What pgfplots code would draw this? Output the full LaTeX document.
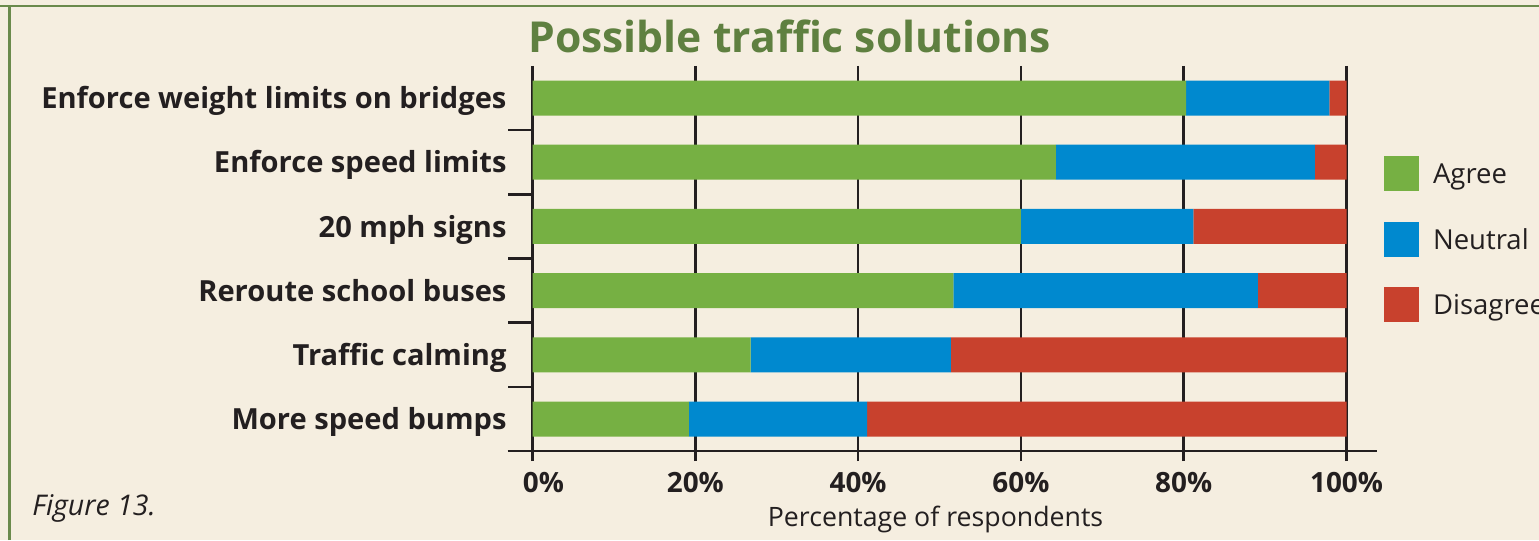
\documentclass[border=0pt]{standalone}
\usepackage{fontspec}
\setmainfont{Open Sans}
\usepackage{pgfplots}
\pgfplotsset{compat=1.18}

\definecolor{bg}{HTML}{F5EEE0}
\definecolor{framegreen}{HTML}{6A8A4C}
\definecolor{titlegreen}{HTML}{5F8040}
\definecolor{agree}{HTML}{76B043}
\definecolor{neutral}{HTML}{0089CF}
\definecolor{disagree}{HTML}{C8412D}
\definecolor{ink}{HTML}{231F20}

\pgfplotsset{
  sq/.style={legend image code/.code={\fill[##1] (0bp,-8.75bp) rectangle (17.5bp,8.75bp);}},
}

\begin{document}
\begin{tikzpicture}[x=1bp,y=1bp]
  % background and frame
  \fill[bg] (0,0) rectangle (769.5,270);
  \draw[framegreen, line width=1.3bp] (0,267) -- (769.5,267);
  \draw[framegreen, line width=1.6bp] (4.75,0) -- (4.75,267.6);

  \node[anchor=base west, inner sep=0pt, text=titlegreen,
        font=\bfseries\fontsize{21.4}{25}\selectfont] at (264,243.6) {Possible traffic solutions};
  \node[anchor=base west, inner sep=0pt, text=ink,
        font=\itshape\fontsize{14.3}{17}\selectfont] at (16,12.5) {Figure 13.};

  \begin{axis}[
    at={(266.25bp,44.45bp)}, anchor=south west,
    scale only axis, width=407bp, height=192.6bp,
    clip=false,
    xbar stacked, bar width=17.5bp,
    xmin=0, xmax=100, ymin=-0.5, ymax=5.5, y dir=reverse,
    axis line style={draw=none},
    xtick={0,20,...,100},
    xticklabels={\hspace{11bp}0\%,20\%,40\%,60\%,80\%,100\%},
    xtick pos=left,
    tick align=outside, major tick length=5bp,
    xtick style={ink, line width=1.3bp},
    xmajorgrids, grid style={ink, line width=1.3bp},
    ytick={0,...,5},
    yticklabels={Enforce weight limits on bridges, Enforce speed limits, 20 mph signs,
                 Reroute school buses, Traffic calming, More speed bumps},
    ytick style={draw=none},
    xticklabel style={anchor=base, inner sep=0pt, text=ink, yshift=-15.5bp,
                      font=\bfseries\fontsize{14}{16}\selectfont},
    yticklabel style={anchor=base east, inner sep=0pt, text=ink, yshift=-5.3bp, xshift=-7.8bp,
                      font=\bfseries\fontsize{14.6}{18}\selectfont},
    xlabel={Percentage of respondents},
    xlabel style={at={(axis description cs:0.5,0)}, anchor=base, inner sep=0pt,
                  yshift=-37.7bp, xshift=-2bp, text=ink,
                  font=\fontsize{13.4}{16}\selectfont},
    legend style={at={(1.0461,0.766)}, anchor=north west, draw=none, fill=none,
                  inner sep=0pt, outer sep=0pt, row sep=15.25bp, text=ink,
                  font=\fontsize{13.8}{16}\selectfont,
                  nodes={inner sep=0pt, text height=10bp, text depth=0pt},
                  /tikz/every odd column/.append style={column sep=7bp}},
    legend cell align=left,
  ]
    \addplot[fill=agree, draw=none, sq] coordinates
      {(80.3,0) (64.3,1) (60.0,2) (51.7,3) (26.8,4) (19.2,5)};
    \addplot[fill=neutral, draw=none, sq] coordinates
      {(17.6,0) (31.8,1) (21.2,2) (37.4,3) (24.6,4) (21.9,5)};
    \addplot[fill=disagree, draw=none, sq] coordinates
      {(2.1,0) (3.9,1) (18.8,2) (10.9,3) (48.6,4) (58.9,5)};
    \legend{Agree, Neutral, Disagree}

    \draw[ink, line width=1.3bp] (axis cs:0,5.5) ++(-12.5bp,0bp) -- (axis cs:100,5.5) -- ++(15bp,0bp);
    \pgfplotsinvokeforeach{0.5,1.5,2.5,3.5,4.5}{
      \draw[ink, line width=1.3bp] (axis cs:0,#1) -- ++(-12.5bp,0bp);
    }
  \end{axis}

  \pgfresetboundingbox
  \path[use as bounding box] (0,0) rectangle (769.5,270);
\end{tikzpicture}
\end{document}
